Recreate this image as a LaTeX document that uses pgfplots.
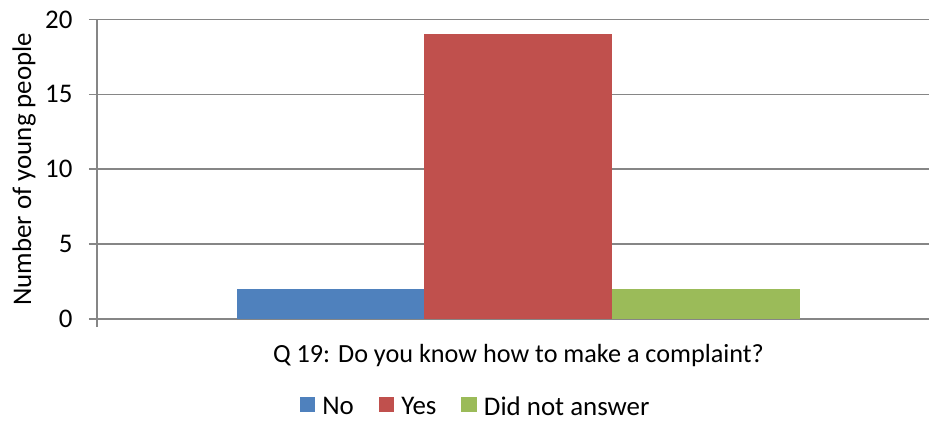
\documentclass[border=0pt]{standalone}
\usepackage{fontspec}
\setmainfont{Carlito}
\usepackage{pgfplots}
\pgfplotsset{compat=1.18}
\definecolor{cblue}{HTML}{4F81BD}
\definecolor{cred}{HTML}{C0504D}
\definecolor{cgreen}{HTML}{9BBB59}
\definecolor{gridgray}{HTML}{868686}
\begin{document}
\begin{tikzpicture}
\begin{axis}[
  name=ax,
  at={(97bp,104bp)}, anchor=south west,
  scale only axis, width=843bp, height=299.5bp,
  xmin=0, xmax=843, ymin=0, ymax=20,
  ytick={0,5,10,15,20},
  xtick={0}, xticklabels={},
  axis lines*=left,
  axis line style={gridgray, line width=1.6bp},
  ymajorgrids, grid style={gridgray, line width=1.6bp},
  tick align=outside, major tick length=8bp,
  tick style={gridgray, line width=1.6bp},
  font=\fontsize{27}{32}\selectfont,
  /pgf/number format/assume math mode=true,
  yticklabel style={font=\fontsize{27}{32}\selectfont, xshift=-13bp},
  ylabel={Number of young people},
  ylabel style={at={(axis description cs:-0.0866,0.5)}, anchor=center},
  xlabel={Q 19: Do you know how to make a complaint?},
  xlabel style={at={(axis description cs:0.5,-0.1436)}, anchor=base, font=\fontsize{26.3}{31}\selectfont},
  legend style={at={(axis description cs:0.448,-0.2938)}, anchor=center, draw=none,
    legend columns=3, font=\fontsize{27}{32}\selectfont,
    nodes={inner xsep=0pt, inner ysep=0pt},
    /tikz/every odd column/.style={column sep=7bp},
    /tikz/every even column/.style={column sep=25bp}},
  legend image code/.code={\fill[#1] (0bp,-5bp) rectangle (15.5bp,10bp);},
]
\addplot[ybar, bar width=187.5, bar shift=0pt, fill=cblue, draw=none] coordinates {(233.5,2)};
\addlegendentry{No}
\addplot[ybar, bar width=187.5, bar shift=0pt, fill=cred, draw=none] coordinates {(421,19)};
\addlegendentry{Yes}
\addplot[ybar, bar width=187.5, bar shift=0pt, fill=cgreen, draw=none] coordinates {(609,2)};
\addlegendentry{Did not answer}
\end{axis}
\pgfresetboundingbox
\path[use as bounding box] (0,0) rectangle (929bp,423bp);
\end{tikzpicture}
\end{document}
